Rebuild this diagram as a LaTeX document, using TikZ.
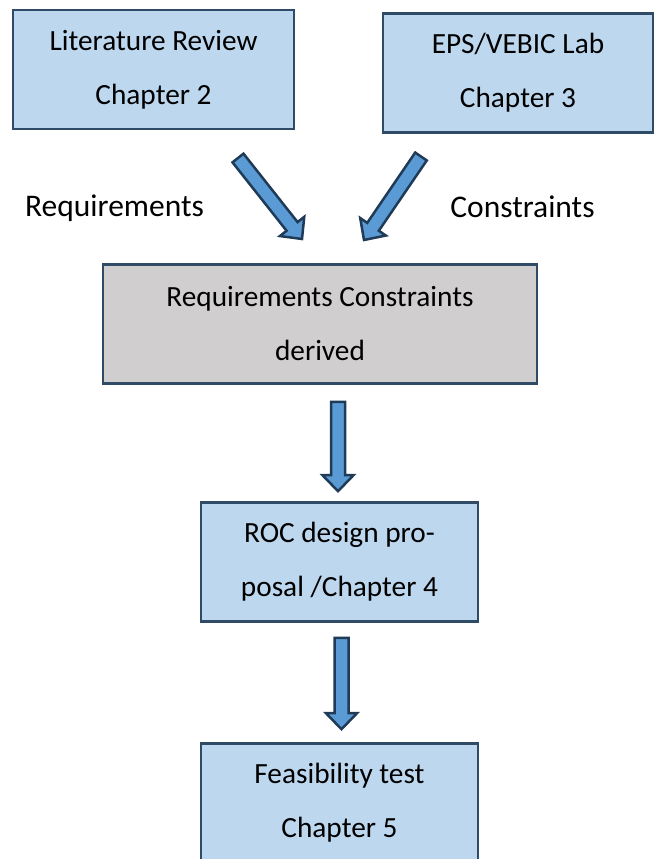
\documentclass[tikz,border=0pt]{standalone}
\usepackage{fontspec}
\setmainfont{Carlito}
\usetikzlibrary{calc}

\definecolor{boxblue}{HTML}{BDD7EE}
\definecolor{boxgrey}{HTML}{D0CECE}
\definecolor{boxedge}{HTML}{2F4B68}
\definecolor{arrowfill}{HTML}{5B9BD5}
\definecolor{arrowedge}{HTML}{1F3B57}

\tikzset{
  chapbox/.style={draw=boxedge, line width=2.6pt, fill=boxblue,
    minimum width=#1, minimum height=119pt, inner sep=0pt,
    align=center, font=\fontsize{29.3}{54}\selectfont},
  chapbox/.default=277pt,
  greybox/.style={chapbox=434pt, fill=boxgrey},
  sidelabel/.style={font=\fontsize{31.5}{36}\selectfont, inner sep=0pt},
  blockarrow/.style={draw=arrowedge, fill=arrowfill, line width=2.5pt,
    line join=miter}
}

% block arrow from a tail centre to a tip: shaft half-width 7pt,
% head half-width 15.5pt, head length 16pt
\newcommand\blockarrow[2]{%
  \draw[blockarrow]
    ($(#1)!7pt!90:(#2)$) --
    ($(#1)!7pt!-90:(#2)$) --
    ($($(#2)!16pt!(#1)$)!7pt!90:(#1)$) --
    ($($(#2)!16pt!(#1)$)!15.5pt!90:(#1)$) --
    (#2) --
    ($($(#2)!16pt!(#1)$)!15.5pt!-90:(#1)$) --
    ($($(#2)!16pt!(#1)$)!7pt!-90:(#1)$) -- cycle;}

\begin{document}
\begin{tikzpicture}[x=1pt, y=-1pt]
  \useasboundingbox (0,0) rectangle (657,859);

  % boxes
  \node[chapbox=281pt] (lit) at (153.5,69.5) {Literature Review\\Chapter 2};
  \node[chapbox=270pt] (lab) at (518,73) {EPS/VEBIC Lab\\Chapter 3};
  \node[greybox] (req) at (320,324) {Requirements Constraints\\derived};
  \node[chapbox] (roc) at (339.5,562) {ROC design pro-\\posal /Chapter 4};
  \node[chapbox] (feas) at (339.5,803) {Feasibility test\\Chapter 5};

  % side labels
  \node[sidelabel] (lreq) at (114.5,208) {Requirements};
  \node[sidelabel] (lcon) at (522.5,207) {Constraints};

  % arrow end points
  \coordinate (a1s) at (238,158);
  \coordinate (a1e) at (302,239);
  \coordinate (a2s) at (421,156.5);
  \coordinate (a2e) at (364,240);
  \coordinate (a3s) at ($(roc.north |- req.south)+(-1.5,17)$);
  \coordinate (a3e) at ($(roc.north)+(-1.5,-10)$);
  \coordinate (a4s) at ($(roc.south)+(2,15)$);
  \coordinate (a4e) at ($(feas.north)+(2,-13)$);

  \blockarrow{a1s}{a1e}
  \blockarrow{a2s}{a2e}
  \blockarrow{a3s}{a3e}
  \blockarrow{a4s}{a4e}
\end{tikzpicture}
\end{document}
